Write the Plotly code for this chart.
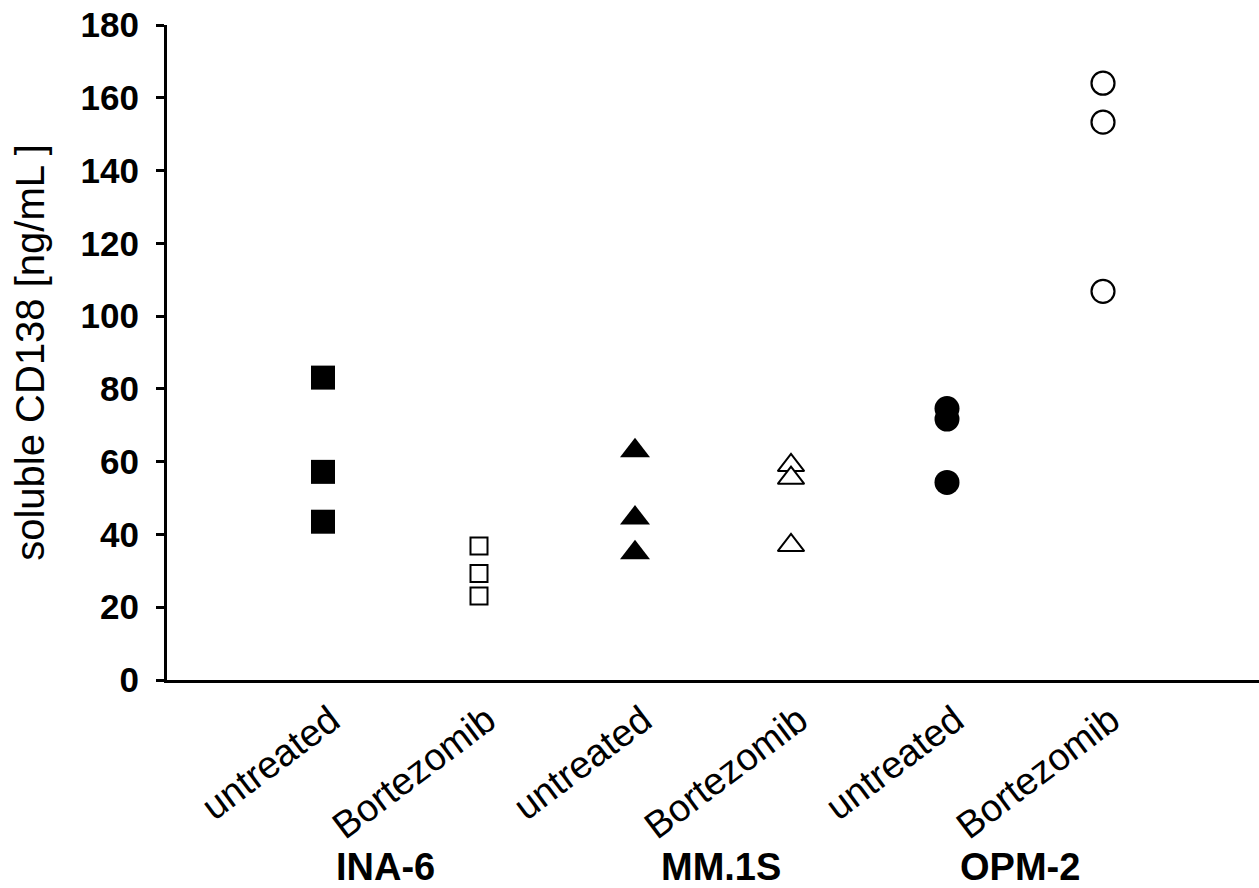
import plotly.graph_objects as go

# ---- data ----
groups = ["INA-6", "MM.1S", "OPM-2"]
treatments = ["untreated", "Bortezomib"]
tick_labels = ["untreated", "Bortezomib", "untreated", "Bortezomib", "untreated", "Bortezomib"]

ina6_untreated = [83.1, 57.2, 43.5]
ina6_bortezomib = [36.8, 29.3, 23.1]
mm1s_untreated = [63.0, 44.5, 35.0]
mm1s_bortezomib = [59.0, 55.5, 37.0]
opm2_untreated = [74.6, 71.7, 54.3]
opm2_bortezomib = [164.0, 153.3, 106.8]

y_ticks = [0, 20, 40, 60, 80, 100, 120, 140, 160, 180]
group_label_pos = [0.4, 2.55, 4.47]

FONT = "Liberation Sans, Arial, sans-serif"

series = [
    (ina6_untreated, "square", "black", 24, 0),
    (ina6_bortezomib, "square", "white", 17, 2),
    (mm1s_untreated, "triangle-up", "black", 26, 0),
    (mm1s_bortezomib, "triangle-up", "white", 23, 2),
    (opm2_untreated, "circle", "black", 25, 0),
    (opm2_bortezomib, "circle", "white", 23, 2.2),
]

fig = go.Figure()
for i, (vals, sym, col, size, lw) in enumerate(series):
    fig.add_trace(go.Scatter(
        x=[i] * len(vals), y=vals, mode="markers",
        marker=dict(symbol=sym, color=col, size=size,
                    line=dict(color="black", width=lw)),
        showlegend=False, cliponaxis=False,
    ))

for name, pos in zip(groups, group_label_pos):
    fig.add_annotation(
        x=pos, xref="x", y=-0.285, yref="paper",
        text=f"<b>{name}</b>", showarrow=False,
        xanchor="center", yanchor="middle",
        font=dict(family=FONT, size=38, color="black"),
    )

fig.update_xaxes(
    range=[-1, 6], tickmode="array", tickvals=list(range(6)), ticktext=tick_labels,
    tickangle=-37, ticks="", showline=True, linecolor="black", linewidth=3,
    ticklabelshift=8, ticklabelstandoff=0,
    showgrid=False, zeroline=False,
    tickfont=dict(family=FONT, size=38, color="black"),
)
fig.update_yaxes(
    range=[0, 180], tickmode="array", tickvals=y_ticks,
    ticks="outside", ticklen=8, tickwidth=3, tickcolor="black",
    ticklabelstandoff=10, ticklabeloverflow="allow",
    showline=True, linecolor="black", linewidth=3,
    showgrid=False, zeroline=False,
    tickfont=dict(family=FONT, size=35, color="black", weight="bold"),
    title=dict(text="soluble CD138 [ng/mL ]", standoff=24,
               font=dict(family=FONT, size=40, color="black")),
)
fig.update_layout(
    width=1259, height=888,
    margin=dict(l=167, r=0, t=25, b=208, autoexpand=False),
    paper_bgcolor="white", plot_bgcolor="white",
)
fig.write_html("out.html", config={"displayModeBar": False},
               post_script="document.body.style.margin='0';")
